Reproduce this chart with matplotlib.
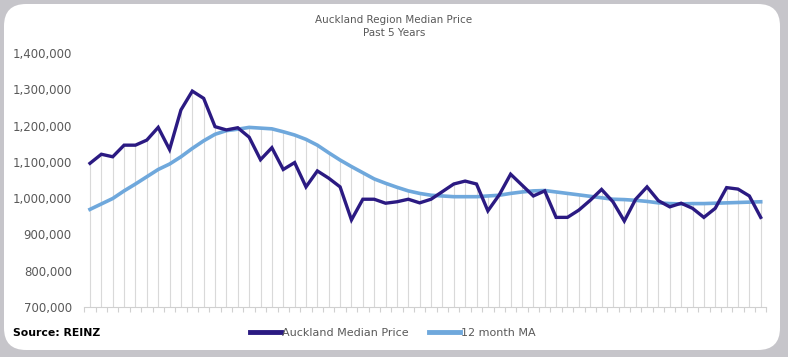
import matplotlib.pyplot as plt
import numpy as np
from matplotlib.patches import FancyBboxPatch
from matplotlib.ticker import FuncFormatter

# Auckland region median price, monthly, last 5 years
median_price = [1096000, 1121000, 1114000, 1146000, 1146000, 1160000, 1195000, 1134000,
                1243000, 1295000, 1275000, 1197000, 1188000, 1194000, 1168000, 1106000,
                1139000, 1079000, 1098000, 1031000, 1075000, 1055000, 1031000, 940000,
                997000, 997000, 986000, 990000, 997000, 987000, 997000, 1018000,
                1039000, 1047000, 1039000, 965000, 1009000, 1066000, 1036000, 1006000,
                1020000, 947000, 947000, 967000, 994000, 1024000, 990000, 937000,
                997000, 1031000, 993000, 976000, 986000, 972000, 947000, 972000,
                1029000, 1025000, 1006000, 947000]

moving_avg = [969000, 984000, 999000, 1020000, 1039000, 1059000, 1079000, 1094000,
              1114000, 1137000, 1158000, 1176000, 1186000, 1190000, 1195000, 1193000,
              1191000, 1183000, 1174000, 1162000, 1146000, 1125000, 1105000, 1087000,
              1070000, 1053000, 1041000, 1030000, 1020000, 1013000, 1008000, 1006000,
              1004000, 1004000, 1004000, 1006000, 1008000, 1013000, 1017000, 1020000,
              1021000, 1017000, 1013000, 1009000, 1005000, 1001000, 997000, 996000,
              994000, 991000, 987000, 985000, 984000, 985000, 985000, 986000,
              987000, 988000, 989000, 990000]

y_ticks = [700000, 800000, 900000, 1000000, 1100000, 1200000, 1300000, 1400000]

median_color = '#2b1a82'
ma_color = '#6fa8dc'
text_gray = '#595959'

fig = plt.figure(figsize=(7.88, 3.57), dpi=100)
fig.patch.set_facecolor('#c6c5ca')

# white rounded card behind everything
card = FancyBboxPatch((4 / 788, 7 / 357), 776 / 788, 346 / 357,
                      boxstyle='round,pad=0,rounding_size=0.028',
                      transform=fig.transFigure, facecolor='white', edgecolor='none',
                      mutation_aspect=788 / 357, zorder=-5)
fig.patches.append(card)

ax = fig.add_axes([84.3 / 788, 1 - 307 / 357, 682.1 / 788, 254 / 357])
ax.set_facecolor('none')
ax.set_zorder(2)

x = np.arange(len(median_price))
tops = np.maximum(median_price, moving_avg)

# drop lines from the higher series down to the axis
ax.vlines(x, y_ticks[0], tops, color='#d9d9d9', linewidth=0.8, zorder=1)

ax.plot(x, median_price, color=median_color, linewidth=2.4, label='Auckland Median Price',
        zorder=3, solid_joinstyle='miter')
ax.plot(x, moving_avg, color=ma_color, linewidth=2.6, label='12 month MA', zorder=2)

ax.set_xlim(-0.5, len(x) - 0.5)
ax.set_ylim(y_ticks[0], y_ticks[-1])
ax.set_yticks(y_ticks)
ax.yaxis.set_major_formatter(FuncFormatter(lambda v, p: f'{int(v):,}'))
ax.set_xticks(np.arange(-0.5, len(x), 1.0))
ax.set_xticklabels([])
ax.tick_params(axis='x', length=3.5, width=0.8, color='#d0d0d0', direction='out')
ax.tick_params(axis='y', length=0, labelsize=8.5, labelcolor=text_gray, pad=9)

for side in ['top', 'right', 'left']:
    ax.spines[side].set_visible(False)
ax.spines['bottom'].set_color('#d0d0d0')
ax.spines['bottom'].set_linewidth(0.8)

fig.text(394 / 788, 1 - 20 / 357, 'Auckland Region Median Price', ha='center', va='center',
         fontsize=7.5, color=text_gray)
fig.text(394 / 788, 1 - 33 / 357, 'Past 5 Years', ha='center', va='center',
         fontsize=7.5, color=text_gray)

fig.text(13 / 788, 1 - 333 / 357, 'Source: REINZ', ha='left', va='center',
         fontsize=7.8, fontweight='bold', color='black')

leg = fig.legend(loc='center', bbox_to_anchor=(393 / 788, 1 - 333 / 357), ncol=2,
                 frameon=False, fontsize=8, handlelength=2.8, handletextpad=0.1,
                 columnspacing=1.8)
for line in leg.get_lines():
    line.set_linewidth(3.5)
for t in leg.get_texts():
    t.set_color(text_gray)

fig.savefig('out.png', dpi=100, facecolor=fig.get_facecolor())
